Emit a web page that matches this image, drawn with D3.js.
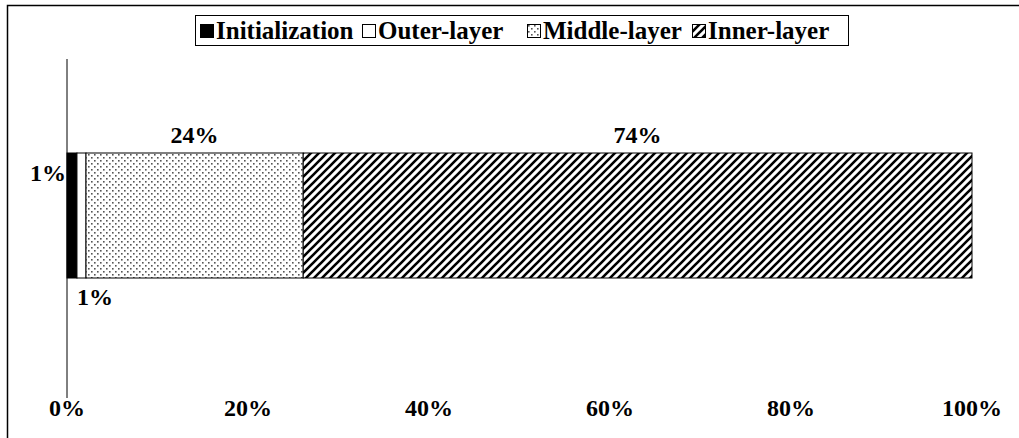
<!doctype html>
<html>
<head>
    <script src="https://d3js.org/d3.v7.min.js"></script>
    <style>
        body { margin: 0; background: #fff; }
        text { font-family: "Liberation Serif", "Times New Roman", serif; font-weight: bold; }
    </style>
</head>
<body>
    <script>
        let stages = ["Initialization", "Outer-layer", "Middle-layer", "Inner-layer"];
        let shares = [1.1, 1.0, 24.0, 73.9];
        let shareLabels = ["1%", "1%", "24%", "74%"];
        let tickValues = [0, 20, 40, 60, 80, 100];

        let width = 1019, height = 438;
        let svg = d3.select("body").append("svg")
                    .attr("width", width).attr("height", height);

        // fill patterns
        let defs = svg.append("defs");
        let dots = defs.append("pattern").attr("id", "dots")
                    .attr("patternUnits", "userSpaceOnUse").attr("width", 6).attr("height", 6);
        dots.append("rect").attr("width", 6).attr("height", 6).attr("fill", "#fff");
        dots.append("rect").attr("x", 1).attr("y", 1).attr("width", 1.6).attr("height", 1.6).attr("fill", "#555");
        dots.append("rect").attr("x", 4).attr("y", 4).attr("width", 1.6).attr("height", 1.6).attr("fill", "#555");
        let hatch = defs.append("pattern").attr("id", "hatch")
                    .attr("patternUnits", "userSpaceOnUse").attr("width", 8).attr("height", 8);
        hatch.append("rect").attr("width", 8).attr("height", 8).attr("fill", "#fff");
        hatch.append("path").attr("d", "M-2,2 L2,-2 M0,8 L8,0 M6,10 L10,6")
                .attr("stroke", "#000").attr("stroke-width", 2.6);
        let fills = ["#000", "#fff", "url(#dots)", "url(#hatch)"];

        // outer frame
        svg.append("path").attr("d", "M7.5,438 V5.5 H1019")
            .attr("fill", "none").attr("stroke", "#000").attr("stroke-width", 1.5);

        let x = d3.scaleLinear().domain([0, 100]).range([67, 972]);
        let y = d3.scaleBand().domain(["row"]).range([153, 278]);

        // stacked segments
        let starts = d3.cumsum([0].concat(shares)).slice(0, shares.length);
        let bandY = y("row"), bandH = y.bandwidth();
        svg.selectAll("rect.seg").data(shares).enter().append("rect")
            .attr("class", "seg")
            .attr("x", (d, i) => x(starts[i]))
            .attr("y", bandY)
            .attr("width", d => x(d) - x(0))
            .attr("height", bandH)
            .attr("fill", (d, i) => fills[i])
            .attr("stroke", "#000").attr("stroke-width", 1);

        // y axis line (no ticks)
        svg.append("line").attr("x1", x(0)).attr("x2", x(0)).attr("y1", 59).attr("y2", 398)
            .attr("stroke", "#000").attr("stroke-width", 1);

        // x tick labels
        svg.selectAll("text.tick").data(tickValues).enter().append("text")
            .attr("class", "tick")
            .attr("x", d => x(d)).attr("y", 416)
            .attr("text-anchor", "middle").attr("font-size", 24)
            .text(d => d + "%");

        // segment labels
        svg.selectAll("text.lab").data(shareLabels).enter().append("text")
            .attr("class", "lab").attr("font-size", 24)
            .attr("text-anchor", (d, i) => i === 0 ? "end" : (i === 1 ? "start" : "middle"))
            .attr("x", (d, i) => {
                if (i === 0) return x(starts[i]) - 1;
                if (i === 1) return x(starts[i]);
                return x(starts[i] + shares[i] / 2);
            })
            .attr("y", (d, i) => {
                if (i === 0) return bandY + 28;
                if (i === 1) return bandY + bandH + 27;
                return bandY - 10;
            })
            .text(d => d);

        // legend
        let legend = svg.append("g");
        legend.append("rect").attr("x", 195.5).attr("y", 15.5).attr("width", 653).attr("height", 30)
            .attr("fill", "#fff").attr("stroke", "#000").attr("stroke-width", 1);
        let legendX = [200, 362, 527, 692];
        let items = legend.selectAll("g.item").data(stages).enter().append("g")
            .attr("class", "item")
            .attr("transform", (d, i) => "translate(" + legendX[i] + ",0)");
        items.append("rect").attr("x", 0.5).attr("y", 24.5).attr("width", 13).attr("height", 13)
            .attr("fill", (d, i) => fills[i]).attr("stroke", "#000").attr("stroke-width", 1);
        items.append("text").attr("x", 16).attr("y", 39).attr("font-size", 25)
            .text(d => d);
    </script>
</body>
</html>
